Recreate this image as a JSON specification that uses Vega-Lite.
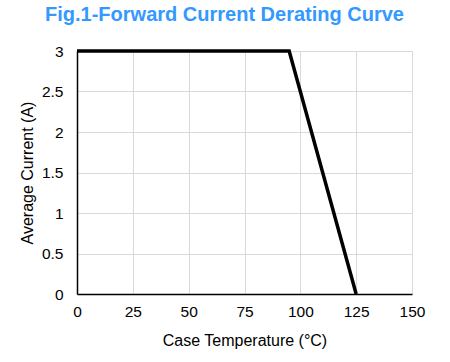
{
  "$schema": "https://vega.github.io/schema/vega-lite/v6.json",
  "width": 335,
  "height": 243,
  "autosize": {"type": "none"},
  "padding": {"left": 77, "top": 51, "right": 38, "bottom": 68},
  "background": "white",
  "title": {
    "text": "Fig.1-Forward Current Derating Curve",
    "font": "Liberation Sans",
    "fontSize": 20,
    "fontWeight": "bold",
    "color": "#3399FF",
    "anchor": "middle",
    "dx": -20,
    "offset": 19
  },
  "config": {
    "view": {"stroke": null},
    "axis": {
      "labelFont": "Liberation Sans",
      "titleFont": "Liberation Sans",
      "labelFontSize": 15.5,
      "titleFontSize": 16,
      "labelColor": "black",
      "titleColor": "black",
      "titleFontWeight": "normal",
      "gridColor": "#d9d9d9",
      "gridWidth": 1,
      "domainColor": "black",
      "domainWidth": 1.5,
      "ticks": false,
      "labelFlush": false
    }
  },
  "data": {
    "values": [
      {"temp": 0, "current": 3},
      {"temp": 95, "current": 3},
      {"temp": 125, "current": 0}
    ]
  },
  "mark": {"type": "line", "color": "black", "strokeWidth": 3.5},
  "encoding": {
    "x": {
      "field": "temp",
      "type": "quantitative",
      "title": "Case Temperature (°C)",
      "scale": {"domain": [0, 150], "nice": false},
      "axis": {"values": [0, 25, 50, 75, 100, 125, 150], "labelPadding": 10, "titlePadding": 13}
    },
    "y": {
      "field": "current",
      "type": "quantitative",
      "title": "Average Current (A)",
      "scale": {"domain": [0, 3], "nice": false},
      "axis": {"values": [0, 0.5, 1, 1.5, 2, 2.5, 3], "format": "~g", "labelPadding": 14, "titlePadding": 6}
    }
  }
}
